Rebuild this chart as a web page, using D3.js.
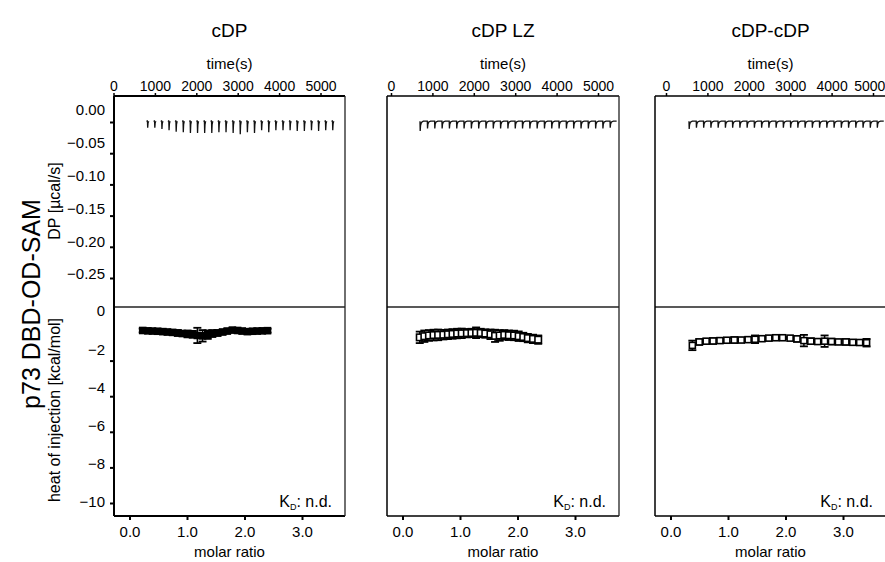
<!DOCTYPE html>
<html>
<head>
<meta charset="utf-8">
<script src="https://cdn.jsdelivr.net/npm/d3@7"></script>
<style>
  body { margin: 0; background: #fff; }
  svg { display: block; font-family: "Liberation Sans", Arial, sans-serif; }
</style>
</head>
<body>
<div id="chart"></div>
<script>
// panel titles
const titles = ["cDP", "cDP LZ", "cDP-cDP"];

// tick labels
const timeTicks = [0, 1000, 2000, 3000, 4000, 5000];
const dpTicks = [0, -0.05, -0.1, -0.15, -0.2, -0.25];
const heatTicks = [0, -2, -4, -6, -8, -10];
const molarTicks = [0, 1, 2, 3];

// injection times (s) per panel
const injTimes1 = [820, 992, 1164, 1336, 1508, 1680, 1852, 2024, 2196, 2368, 2540, 2712, 2884, 3056, 3228, 3400, 3572, 3744, 3916, 4088, 4260, 4432, 4604, 4776, 4948, 5120, 5290];
const injTimes2 = [700, 877, 1053, 1230, 1406, 1583, 1760, 1936, 2113, 2289, 2466, 2642, 2819, 2996, 3172, 3349, 3525, 3702, 3878, 4055, 4232, 4408, 4585, 4761, 4938, 5114, 5290];
const injTimes3 = [555, 730, 905, 1080, 1255, 1430, 1605, 1780, 1955, 2130, 2305, 2480, 2655, 2830, 3005, 3180, 3355, 3530, 3705, 3880, 4055, 4230, 4405, 4580, 4755, 4930, 5100];

// DP baseline and peak minimum (µcal/s) per injection
const dpBase = [-0.017, -0.017, -0.017];
const dpPeaks1 = [-0.027, -0.027, -0.029, -0.031, -0.033, -0.034, -0.035, -0.035, -0.035, -0.035, -0.034, -0.034, -0.035, -0.037, -0.034, -0.035, -0.031, -0.034, -0.031, -0.031, -0.031, -0.032, -0.032, -0.031, -0.032, -0.031, -0.031];
const dpPeaks2 = [-0.032, -0.028, -0.028, -0.028, -0.028, -0.028, -0.028, -0.028, -0.028, -0.028, -0.028, -0.028, -0.028, -0.028, -0.028, -0.028, -0.028, -0.028, -0.028, -0.028, -0.028, -0.028, -0.028, -0.028, -0.028, -0.028, -0.027];
const dpPeaks3 = [-0.029, -0.027, -0.027, -0.027, -0.027, -0.027, -0.027, -0.027, -0.027, -0.027, -0.027, -0.027, -0.027, -0.027, -0.027, -0.027, -0.027, -0.027, -0.027, -0.027, -0.027, -0.027, -0.027, -0.027, -0.027, -0.027, -0.027];

// integrated heats (kcal/mol) vs molar ratio
const molar1 = [0.23, 0.32, 0.40, 0.49, 0.58, 0.66, 0.75, 0.84, 0.92, 1.01, 1.10, 1.18, 1.27, 1.36, 1.44, 1.53, 1.62, 1.70, 1.79, 1.88, 1.96, 2.05, 2.14, 2.22, 2.31, 2.40];
const heat1 = [-1.02, -1.04, -1.05, -1.06, -1.08, -1.10, -1.12, -1.15, -1.18, -1.20, -1.22, -1.28, -1.30, -1.24, -1.18, -1.15, -1.10, -1.05, -1.00, -1.02, -1.05, -1.08, -1.06, -1.05, -1.04, -1.03];
const err1 = [0.1, 0.1, 0.1, 0.12, 0.1, 0.12, 0.12, 0.15, 0.12, 0.18, 0.18, 0.4, 0.3, 0.22, 0.18, 0.15, 0.12, 0.12, 0.1, 0.1, 0.12, 0.1, 0.1, 0.12, 0.1, 0.1];

const molar2 = [0.30, 0.38, 0.46, 0.54, 0.62, 0.71, 0.79, 0.87, 0.95, 1.03, 1.12, 1.20, 1.28, 1.36, 1.44, 1.53, 1.61, 1.69, 1.77, 1.85, 1.94, 2.02, 2.10, 2.18, 2.27, 2.36];
const heat2 = [-1.38, -1.32, -1.28, -1.26, -1.25, -1.24, -1.22, -1.20, -1.18, -1.17, -1.16, -1.15, -1.14, -1.15, -1.18, -1.22, -1.30, -1.28, -1.25, -1.27, -1.28, -1.32, -1.36, -1.42, -1.46, -1.50];
const err2 = [0.3, 0.3, 0.28, 0.28, 0.28, 0.25, 0.25, 0.25, 0.25, 0.25, 0.22, 0.22, 0.28, 0.22, 0.22, 0.25, 0.32, 0.28, 0.25, 0.25, 0.25, 0.25, 0.22, 0.22, 0.22, 0.22];

const molar3 = [0.38, 0.50, 0.62, 0.74, 0.86, 0.98, 1.11, 1.23, 1.35, 1.47, 1.59, 1.71, 1.83, 1.95, 2.08, 2.20, 2.32, 2.44, 2.56, 2.68, 2.80, 2.92, 3.05, 3.17, 3.29, 3.41];
const heat3 = [-1.80, -1.62, -1.58, -1.57, -1.55, -1.53, -1.52, -1.52, -1.50, -1.48, -1.45, -1.42, -1.40, -1.40, -1.42, -1.46, -1.55, -1.58, -1.60, -1.58, -1.60, -1.62, -1.62, -1.64, -1.65, -1.66];
const err3 = [0.25, 0.15, 0.12, 0.15, 0.12, 0.12, 0.15, 0.12, 0.12, 0.2, 0.12, 0.12, 0.05, 0.05, 0.05, 0.15, 0.3, 0.15, 0.12, 0.3, 0.15, 0.12, 0.15, 0.12, 0.12, 0.2];

const width = 885;
const height = 562;
const tickFont = "15px";
const fontFam = "Liberation Sans, Arial, sans-serif";

const svg = d3
  .select("#chart")
  .append("svg")
  .attr("width", width)
  .attr("height", height);

svg.append("rect").attr("width", width).attr("height", height).attr("fill", "#fff");

// layout of the three panels (pixels)
const panels = [
  { left: 114, right: 345, t0: 113.5, title: titles[0], times: injTimes1, peaks: dpPeaks1, base: dpBase[0], molar: molar1, heat: heat1, err: err1, broken: true, fill: "#000", size: 6 },
  { left: 387, right: 619, t0: 391, title: titles[1], times: injTimes2, peaks: dpPeaks2, base: dpBase[1], molar: molar2, heat: heat2, err: err2, broken: false, fill: "#fff", size: 6.5 },
  { left: 655, right: 886, t0: 666, title: titles[2], times: injTimes3, peaks: dpPeaks3, base: dpBase[2], molar: molar3, heat: heat3, err: err3, broken: false, fill: "#fff", size: 6 },
];

const yTop = 96;
const yMid = 307;
const yBottom = 516;

// value scales (labels and data) and tick-mark scales for the left axes
const dpY = d3.scaleLinear().domain([0, -0.25]).range([110, 274]);
const dpTickY = d3.scaleLinear().domain([0, -0.25]).range([122, 278]);
const heatY = d3.scaleLinear().domain([0, -10]).range([311, 502]);
const heatTickY = d3.scaleLinear().domain([0, -10]).range([325, 503]);

panels.forEach((p, i) => {
  const cx = (p.left + p.right) / 2;
  const g = svg.append("g");

  const tx = d3.scaleLinear().domain([0, 5000]).range([p.t0, p.t0 + 207]);
  const mx = d3.scaleLinear().domain([0, 3]).range([p.left + 15.5, p.left + 15.5 + 172.5]);

  // title
  g.append("text")
    .attr("x", cx)
    .attr("y", 37)
    .attr("text-anchor", "middle")
    .attr("font-size", "19px")
    .text(p.title);

  g.append("text")
    .attr("x", cx)
    .attr("y", 69)
    .attr("text-anchor", "middle")
    .attr("font-size", "15px")
    .text("time(s)");

  // top time axis
  const topAxis = g.append("g")
    .attr("transform", `translate(0,${yTop})`)
    .call(d3.axisTop(tx).tickValues(timeTicks).tickSize(3).tickSizeOuter(0).tickPadding(2).tickFormat(d3.format("d")));
  topAxis.select(".domain").remove();
  topAxis.selectAll("text").attr("font-size", "14px").attr("font-family", fontFam);
  topAxis.selectAll("line").attr("stroke-width", 1.5);
  // keep labels inside the picture
  topAxis.selectAll("text").each(function () {
    const b = this.getBBox();
    const gx = tx(d3.select(this.parentNode).datum());
    const over = gx + b.x + b.width - width;
    if (over > 0) d3.select(this).attr("x", -over);
  });

  // bottom molar ratio axis
  const botAxis = g.append("g")
    .attr("transform", `translate(0,${yBottom})`)
    .call(d3.axisBottom(mx).tickValues(molarTicks).tickSize(4).tickSizeOuter(0).tickPadding(6).tickFormat(d3.format(".1f")));
  botAxis.select(".domain").remove();
  botAxis.selectAll("text").attr("font-size", tickFont).attr("font-family", fontFam);
  botAxis.selectAll("line").attr("stroke-width", 2);

  g.append("text")
    .attr("x", cx)
    .attr("y", 557)
    .attr("text-anchor", "middle")
    .attr("font-size", "15px")
    .text("molar ratio");

  // frame
  const lw = i === 0 ? 2 : 1.5;
  g.append("line").attr("x1", p.left).attr("x2", p.right).attr("y1", yTop).attr("y2", yTop).attr("stroke", "#000").attr("stroke-width", lw);
  g.append("line").attr("x1", p.left).attr("x2", p.right).attr("y1", yBottom).attr("y2", yBottom).attr("stroke", "#000").attr("stroke-width", lw);
  g.append("line").attr("x1", p.left).attr("x2", p.right).attr("y1", yMid).attr("y2", yMid).attr("stroke", "#222").attr("stroke-width", 1.3);
  g.append("line").attr("x1", p.left).attr("x2", p.left).attr("y1", yTop).attr("y2", yBottom).attr("stroke", "#000").attr("stroke-width", lw);
  g.append("line").attr("x1", p.right).attr("x2", p.right).attr("y1", yTop).attr("y2", yBottom).attr("stroke", "#222").attr("stroke-width", 1.3);

  // DP raw trace
  const line = d3.line().x((d) => tx(d[0])).y((d) => dpY(d[1]));
  if (p.broken) {
    p.times.forEach((t, k) => {
      const pk = p.peaks[k];
      const pts = [
        [t - 12, p.base - 0.001],
        [t - 4, p.base + 0.001],
        [t, p.base],
        [t + 6, pk],
        [t + 14, p.base + (pk - p.base) * 0.3],
        [t + 30, p.base],
      ];
      g.append("path").attr("d", line(pts)).attr("fill", "none").attr("stroke", "#111").attr("stroke-width", 1.3);
    });
  } else {
    const pts = [];
    p.times.forEach((t, k) => {
      const pk = p.peaks[k];
      pts.push([t, p.base]);
      pts.push([t + 5, pk]);
      pts.push([t + 14, p.base + (pk - p.base) * 0.45]);
      pts.push([t + 35, p.base + (pk - p.base) * 0.12]);
      pts.push([t + 80, p.base]);
    });
    pts.push([p.times[p.times.length - 1] + 160, p.base]);
    g.append("path").attr("d", line(pts)).attr("fill", "none").attr("stroke", "#111").attr("stroke-width", 1.3);
  }

  // integrated heats with error bars
  const hd = p.molar.map((m, k) => ({ m: m, h: p.heat[k], e: p.err[k] }));
  const pt = g.append("g").selectAll("g").data(hd).join("g");
  pt.append("line")
    .attr("x1", (d) => mx(d.m)).attr("x2", (d) => mx(d.m))
    .attr("y1", (d) => heatY(d.h - d.e)).attr("y2", (d) => heatY(d.h + d.e))
    .attr("stroke", "#000").attr("stroke-width", 1.5);
  [1, -1].forEach((s) => {
    pt.append("line")
      .attr("x1", (d) => mx(d.m) - 4).attr("x2", (d) => mx(d.m) + 4)
      .attr("y1", (d) => heatY(d.h + s * d.e)).attr("y2", (d) => heatY(d.h + s * d.e))
      .attr("stroke", "#000").attr("stroke-width", 1.8);
  });
  pt.append("rect")
    .attr("x", (d) => mx(d.m) - p.size / 2).attr("y", (d) => heatY(d.h) - p.size / 2)
    .attr("width", p.size).attr("height", p.size)
    .attr("fill", p.fill).attr("stroke", "#000").attr("stroke-width", 1.6);

  // K_D annotation
  const kd = g.append("text")
    .attr("x", p.right - 13)
    .attr("y", 507)
    .attr("text-anchor", "end")
    .attr("font-size", "16px");
  kd.append("tspan").text("K");
  kd.append("tspan").attr("font-size", "9px").attr("dy", 3).text("D");
  kd.append("tspan").attr("dy", -3).text(": n.d.");
});

// left axes on the first panel only
const p0 = panels[0];
const dpTicksG = svg.append("g")
  .attr("transform", `translate(${p0.left},0)`)
  .call(d3.axisLeft(dpTickY).tickValues(dpTicks).tickSize(4).tickFormat(""));
dpTicksG.select(".domain").remove();
dpTicksG.selectAll("line").attr("stroke-width", 2);

const dpLabG = svg.append("g")
  .attr("transform", `translate(${p0.left},0)`)
  .call(d3.axisLeft(dpY).tickValues(dpTicks).tickSize(0).tickPadding(9).tickFormat(d3.format(".2f")));
dpLabG.select(".domain").remove();
dpLabG.selectAll("text").attr("font-size", tickFont).attr("font-family", fontFam);

const heatTicksG = svg.append("g")
  .attr("transform", `translate(${p0.left},0)`)
  .call(d3.axisLeft(heatTickY).tickValues(heatTicks.slice(1)).tickSize(4).tickFormat(""));
heatTicksG.select(".domain").remove();
heatTicksG.selectAll("line").attr("stroke-width", 2);

const heatLabG = svg.append("g")
  .attr("transform", `translate(${p0.left},0)`)
  .call(d3.axisLeft(heatY).tickValues(heatTicks).tickSize(0).tickPadding(9).tickFormat(d3.format("d")));
heatLabG.select(".domain").remove();
heatLabG.selectAll("text").attr("font-size", tickFont).attr("font-family", fontFam);

// axis titles
svg.append("text")
  .attr("transform", "translate(60,201) rotate(-90)")
  .attr("text-anchor", "middle")
  .attr("font-size", "16px")
  .text("DP [µcal/s]");

svg.append("text")
  .attr("transform", "translate(60,410) rotate(-90)")
  .attr("text-anchor", "middle")
  .attr("font-size", "16px")
  .text("heat of injection [kcal/mol]");

svg.append("text")
  .attr("transform", "translate(40,304) rotate(-90)")
  .attr("text-anchor", "middle")
  .attr("font-size", "25px")
  .text("p73 DBD-OD-SAM");
</script>
</body>
</html>
